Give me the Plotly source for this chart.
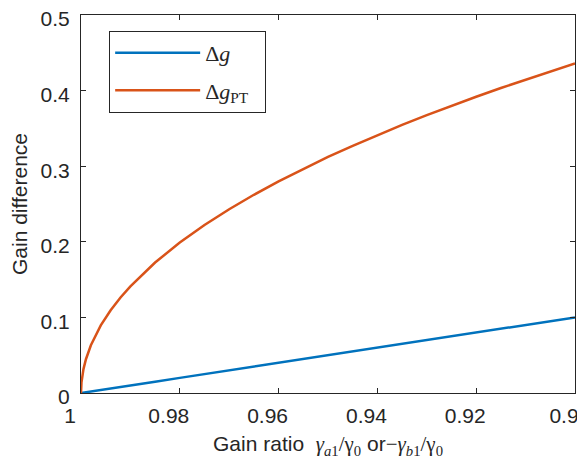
import plotly.graph_objects as go

ratio = [1.0, 0.9999, 0.9995, 0.999, 0.998, 0.996, 0.994, 0.992, 0.99, 0.985, 0.98, 0.975,
         0.97, 0.965, 0.96, 0.955, 0.95, 0.945, 0.94, 0.935, 0.93, 0.925, 0.92, 0.915, 0.91, 0.905, 0.9]
dg = [0.0, 0.0001, 0.0005, 0.001, 0.002, 0.004, 0.006, 0.008, 0.01, 0.015, 0.02, 0.025,
      0.03, 0.035, 0.04, 0.045, 0.05, 0.055, 0.06, 0.065, 0.07, 0.075, 0.08, 0.085, 0.09, 0.095, 0.1]
dg_pt = [0.0, 0.0141, 0.0316, 0.0447, 0.0632, 0.0894, 0.1094, 0.1263, 0.1411, 0.1726, 0.199, 0.2222,
         0.2431, 0.2622, 0.28, 0.2966, 0.3122, 0.327, 0.3412, 0.3547, 0.3676, 0.3801, 0.3919, 0.4034, 0.4145, 0.4252, 0.4359]

xticks = [1, 0.98, 0.96, 0.94, 0.92, 0.9]
xtick_labels = ["1", "0.98", "0.96", "0.94", "0.92", "0.9"]
yticks = [0, 0.1, 0.2, 0.3, 0.4, 0.5]
ytick_labels = ["0", "0.1", "0.2", "0.3", "0.4", "0.5"]

serif = "Liberation Serif, Times New Roman, serif"
sans = "Liberation Sans, Arial, sans-serif"

fig = go.Figure()
fig.add_trace(go.Scatter(x=ratio, y=dg, mode="lines", name="Δ<i>g</i>", legendgroup="a",
                         line=dict(color="#0072BD", width=2.5)))
fig.add_trace(go.Scatter(x=ratio, y=dg_pt, mode="lines", name="Δ<i>g</i><sub>PT</sub>  ", legendgroup="b",
                         line=dict(color="#D95319", width=2.5)))

xtitle = ("Gain ratio  <span style=\"font-family:Liberation Serif\"><i>γ</i><sub><i>a</i>1</sub>/γ<sub>0</sub></span>"
          " or<span style=\"font-family:Liberation Serif\">−<i>γ</i><sub><i>b</i>1</sub>/γ<sub>0</sub></span>")

# page has an 8px body margin, so the figure is placed to compensate
fig.update_layout(
    width=577, height=453,
    margin=dict(l=73, r=10, t=7, b=68, autoexpand=False),
    paper_bgcolor="white", plot_bgcolor="white",
    font=dict(family=sans, size=21, color="#262626"),
    showlegend=True,
    legend=dict(x=0.057, y=0.958, xanchor="left", yanchor="top",
                bordercolor="#262626", borderwidth=1, bgcolor="white",
                font=dict(family=serif, size=22, color="#262626"),
                tracegroupgap=6, itemwidth=85),
    xaxis=dict(range=[1.0000001, 0.8999999], tickvals=xticks, ticktext=xtick_labels,
               ticks="inside", ticklen=5, tickcolor="#262626", mirror="ticks", automargin=False,
               showline=True, linecolor="#262626", linewidth=1.2, showgrid=False, zeroline=False,
               tickfont=dict(size=21), ticklabelstandoff=4, ticklabelshift=11,
               ticklabeloverflow="allow",
               title=dict(text=xtitle, font=dict(family=sans, size=21), standoff=10)),
    yaxis=dict(range=[0, 0.5000001], tickvals=yticks, ticktext=ytick_labels,
               ticks="inside", ticklen=5, tickcolor="#262626", mirror="ticks", automargin=False,
               showline=True, linecolor="#262626", linewidth=1.2, showgrid=False, zeroline=False,
               tickfont=dict(size=21), ticklabelstandoff=6, ticklabelshift=4,
               ticklabeloverflow="allow",
               title=dict(text="Gain difference", font=dict(family=sans, size=21), standoff=14)),
)

fig.write_html("out.html")
